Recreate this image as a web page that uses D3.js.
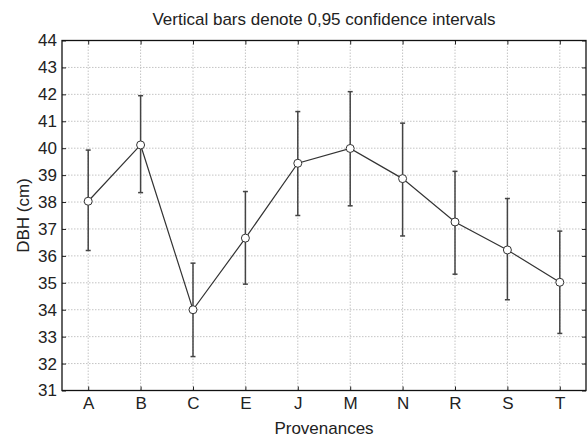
<!DOCTYPE html>
<html>
<head>
<meta charset="utf-8">
<script src="https://d3js.org/d3.v7.min.js"></script>
<style>
  body { margin: 0; background: #fff; }
  svg text { font-family: "Liberation Sans", Arial, sans-serif; fill: #222; }
</style>
</head>
<body>
<div id="chart"></div>
<script>
var categories = ["A", "B", "C", "E", "J", "M", "N", "R", "S", "T"];
var means = [38.03, 40.12, 34.0, 36.66, 39.44, 39.99, 38.87, 37.26, 36.22, 35.02];
var lower = [36.2, 38.35, 32.26, 34.95, 37.5, 37.86, 36.74, 35.32, 34.37, 33.12];
var upper = [39.93, 41.95, 35.73, 38.39, 41.36, 42.1, 40.93, 39.14, 38.13, 36.92];
var yTicks = [31, 32, 33, 34, 35, 36, 37, 38, 39, 40, 41, 42, 43, 44];

var width = 588, height = 437;
var margin = { top: 40.5, right: 2, bottom: 46.5, left: 62 };
var w = width - margin.left - margin.right,
  h = height - margin.top - margin.bottom;

var data = categories.map(function (c, i) {
  return { cat: c, mean: means[i], lo: lower[i], hi: upper[i] };
});

var x = d3.scalePoint().domain(categories).range([0, w]).padding(0.5);
var y = d3.scaleLinear().domain([31, 44]).range([h, 0]);

var svg = d3.select("#chart").append("svg")
  .attr("width", width).attr("height", height);

svg.append("text")
  .attr("x", margin.left + w / 2).attr("y", 24.5)
  .attr("text-anchor", "middle")
  .style("font-size", "17px")
  .text("Vertical bars denote 0,95 confidence intervals");

var g = svg.append("g")
  .attr("transform", "translate(" + margin.left + "," + margin.top + ")");

// grid
g.append("g").selectAll("line.hg").data(yTicks.slice(1, -1)).enter()
  .append("line")
  .attr("x1", 0).attr("x2", w)
  .attr("y1", function (d) { return y(d); })
  .attr("y2", function (d) { return y(d); })
  .attr("stroke", "#c4c4c4").attr("stroke-dasharray", "1.5,1.5");
g.append("g").selectAll("line.vg").data(categories).enter()
  .append("line")
  .attr("y1", 0).attr("y2", h)
  .attr("x1", function (d) { return x(d); })
  .attr("x2", function (d) { return x(d); })
  .attr("stroke", "#c4c4c4").attr("stroke-dasharray", "1.5,1.5");

// axes with inward ticks
var yl = g.append("g").call(d3.axisLeft(y).tickValues(yTicks).tickSizeInner(-4).tickSizeOuter(0).tickPadding(5));
var yr = g.append("g").attr("transform", "translate(" + w + ",0)")
  .call(d3.axisRight(y).tickValues(yTicks).tickSizeInner(-4).tickSizeOuter(0).tickFormat(""));
var xb = g.append("g").attr("transform", "translate(0," + h + ")")
  .call(d3.axisBottom(x).tickSizeInner(-4).tickSizeOuter(0).tickPadding(6));
var xt = g.append("g")
  .call(d3.axisTop(x).tickSizeInner(-4).tickSizeOuter(0).tickFormat(""));

[yl, yr, xb, xt].forEach(function (a) {
  a.select(".domain").remove();
  a.selectAll("line").attr("stroke", "#222");
  a.selectAll("text").style("font-size", "17px").attr("fill", "#222");
});

g.append("rect")
  .attr("width", w).attr("height", h)
  .attr("fill", "none").attr("stroke", "#111").attr("stroke-width", 1.3);

// error bars
var eb = g.append("g").selectAll("g").data(data).enter().append("g")
  .attr("stroke", "#444").attr("stroke-width", 1.5);
eb.append("line")
  .attr("x1", function (d) { return x(d.cat); })
  .attr("x2", function (d) { return x(d.cat); })
  .attr("y1", function (d) { return y(d.lo); })
  .attr("y2", function (d) { return y(d.hi); });
eb.append("line")
  .attr("x1", function (d) { return x(d.cat) - 2.5; })
  .attr("x2", function (d) { return x(d.cat) + 2.5; })
  .attr("y1", function (d) { return y(d.hi); })
  .attr("y2", function (d) { return y(d.hi); });
eb.append("line")
  .attr("x1", function (d) { return x(d.cat) - 2.5; })
  .attr("x2", function (d) { return x(d.cat) + 2.5; })
  .attr("y1", function (d) { return y(d.lo); })
  .attr("y2", function (d) { return y(d.lo); });

// mean line
var line = d3.line()
  .x(function (d) { return x(d.cat); })
  .y(function (d) { return y(d.mean); });
g.append("path").datum(data)
  .attr("d", line)
  .attr("fill", "none").attr("stroke", "#333").attr("stroke-width", 1.2);

g.append("g").selectAll("circle").data(data).enter()
  .append("circle")
  .attr("cx", function (d) { return x(d.cat); })
  .attr("cy", function (d) { return y(d.mean); })
  .attr("r", 4)
  .attr("fill", "#fff").attr("stroke", "#333").attr("stroke-width", 1);

// axis titles
svg.append("text")
  .attr("x", margin.left + w / 2).attr("y", 434)
  .attr("text-anchor", "middle")
  .style("font-size", "17px")
  .text("Provenances");
svg.append("text")
  .attr("transform", "translate(29," + (margin.top + h / 2) + ") rotate(-90)")
  .attr("text-anchor", "middle")
  .style("font-size", "17px")
  .text("DBH (cm)");
</script>
</body>
</html>
